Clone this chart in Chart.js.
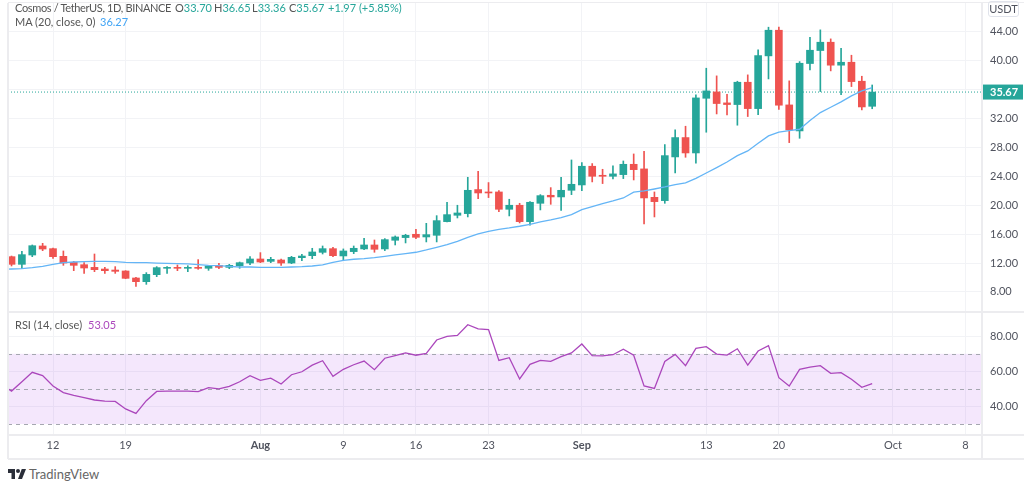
<!DOCTYPE html>
<html>
<head>
<meta charset="utf-8">
<script src="https://cdn.jsdelivr.net/npm/chart.js@4"></script>
<style>
  html,body{margin:0;padding:0;background:#fff;overflow:hidden}
  body{width:1024px;height:489px;position:relative;font-family:Lato,"Open Sans",sans-serif;font-size:11px;color:#555}
  canvas{position:absolute;left:0}
  #mainChart{top:0}
  #rsiChart{top:312px}
  .line{position:absolute;background:#ececef}
  .txt{position:absolute;white-space:nowrap;line-height:14px}
  .up{color:#26a69a}
</style>
</head>
<body>
<canvas id="mainChart" width="1024" height="312"></canvas>
<canvas id="rsiChart" width="1024" height="146"></canvas>

<!-- pane frame -->
<div class="line" style="left:7px;top:3px;width:2px;height:456px"></div>
<div class="line" style="left:981px;top:3px;width:2px;height:456px"></div>
<div class="line" style="left:8px;top:2px;width:1016px;height:1px"></div>
<div class="line" style="left:8px;top:311px;width:1016px;height:2px"></div>
<div class="line" style="left:8px;top:434px;width:1016px;height:2px"></div>
<div class="line" style="left:8px;top:458px;width:1016px;height:2px"></div>

<!-- legends -->
<div class="txt" style="left:15px;top:1px;letter-spacing:-.35px">Cosmos / TetherUS, 1D, BINANCE</div>
<div class="txt" style="left:175px;top:1px">O<span class="up">33.70</span></div>
<div class="txt" style="left:214px;top:1px">H<span class="up">36.65</span></div>
<div class="txt" style="left:252px;top:1px">L<span class="up">33.36</span></div>
<div class="txt" style="left:289px;top:1px">C<span class="up">35.67</span></div>
<div class="txt up" style="left:328px;top:1px">+1.97 (+5.85%)</div>
<div class="txt" style="left:15px;top:15px">MA (20, close, 0)</div>
<div class="txt" style="left:100px;top:15px;color:#42a5f5">36.27</div>
<div class="txt" style="left:15px;top:318px">RSI (14, close)</div>
<div class="txt" style="left:88px;top:318px;color:#ab47bc">53.05</div>

<div class="txt" style="left:988px;top:1px;width:29px;height:14px;border:1px solid #e0e3eb;border-radius:3px;text-align:center;color:#50535e">USDT</div>

<!-- logo -->
<svg style="position:absolute;left:8px;top:468px" width="18" height="12" viewBox="0 0 36 24">
  <path fill="#2a2e39" d="M14 22H7V10H0V2h14zM28 22h-8l7.5-20h8.5z"/><circle fill="#2a2e39" cx="20" cy="6" r="4"/>
</svg>
<div class="txt" style="left:29px;top:467px;font-size:13px;color:#666">TradingView</div>

<script>
/* day numbers count from 12 Jul = 0 */
const firstCandleDay = -4;
const firstLineDay = -5;

const opens  = [12.88,11.82,13.11,14.36,13.99,12.93,12.10,11.77,11.40,11.17,11.03,10.90,9.93,9.42,10.39,11.27,11.40,11.27,11.40,11.27,11.68,11.40,11.63,12.00,12.56,12.23,12.42,12.00,12.74,13.02,13.48,13.99,12.98,13.58,13.95,14.50,13.95,15.15,15.52,15.98,15.61,15.84,17.73,18.61,18.84,22.17,21.84,21.84,19.44,20.00,17.73,20.27,21.38,21.15,22.07,22.81,25.40,24.15,24.01,24.24,25.67,25.03,21.10,20.64,26.69,29.37,27.24,34.81,35.69,34.17,33.94,37.03,33.38,40.68,44.23,33.89,30.29,39.62,41.42,42.57,39.39,39.80,37.17,33.70];
const highs  = [12.97,13.62,14.50,14.73,14.08,13.67,12.23,12.05,13.25,11.40,11.50,10.94,10.02,10.67,11.50,11.50,11.73,11.63,12.47,11.63,11.96,11.82,12.14,12.88,13.44,12.79,12.56,12.93,13.20,14.04,14.36,14.17,13.95,14.36,15.42,15.19,15.38,15.75,15.98,16.67,17.50,18.56,20.41,20.00,23.87,24.71,23.14,22.03,20.83,20.27,20.50,21.47,22.44,23.87,26.27,25.91,25.77,24.98,25.44,26.13,27.10,27.47,21.84,28.40,30.43,30.94,35.28,38.97,37.91,35.37,37.17,38.05,41.51,44.65,44.65,37.22,39.89,43.26,44.28,43.03,41.74,40.77,37.86,36.65];
const lows   = [11.59,11.27,12.88,13.71,12.65,11.68,10.94,10.57,10.80,10.57,10.57,9.83,8.77,9.05,10.11,10.57,10.94,10.80,11.13,10.99,11.22,11.22,11.27,11.77,12.05,12.05,11.68,11.91,12.33,12.60,13.25,12.88,12.42,13.30,13.86,13.49,13.72,14.50,14.78,15.38,14.92,14.92,17.69,18.24,18.38,20.92,21.06,19.12,18.52,17.55,17.23,19.35,20.13,19.30,21.47,22.03,23.23,23.00,23.64,23.69,23.50,17.41,18.38,20.27,24.47,26.64,25.81,30.11,32.64,32.51,31.08,32.28,32.55,37.49,33.25,28.67,29.27,38.74,35.74,38.60,35.32,36.43,33.20,33.36];
const closes = [11.82,13.16,14.40,13.94,12.88,12.00,11.68,11.31,11.08,10.94,10.85,9.88,9.42,10.43,11.36,11.40,11.27,11.40,11.27,11.59,11.40,11.68,12.05,12.56,12.14,12.51,12.00,12.79,12.97,13.53,13.99,13.02,13.67,14.04,14.50,13.90,15.24,15.61,15.84,15.56,15.93,17.87,18.70,18.93,22.07,21.70,21.70,19.44,20.00,17.73,20.41,21.33,21.15,22.07,22.90,25.40,24.01,24.01,24.34,25.67,24.93,21.01,20.50,26.87,29.37,27.24,34.86,35.83,34.08,33.94,37.03,33.38,40.72,44.23,33.85,30.43,39.66,41.46,42.57,39.39,39.80,37.12,33.61,35.67];

const maValues = [11.15,11.17,11.22,11.36,11.54,11.82,12.05,12.14,12.19,12.23,12.23,12.19,12.10,12.05,12.05,12.00,11.96,11.91,11.87,11.77,11.68,11.63,11.54,11.45,11.45,11.40,11.40,11.40,11.45,11.50,11.59,11.73,12.08,12.38,12.52,12.61,12.75,12.93,13.12,13.30,13.49,13.81,14.18,14.55,15.01,15.56,16.03,16.39,16.67,16.86,17.09,17.36,17.69,17.96,18.29,18.70,19.40,19.81,20.23,20.60,21.01,21.82,22.00,22.25,22.53,22.86,23.09,23.73,24.47,25.21,25.99,26.87,27.52,28.58,29.60,30.11,30.34,30.52,31.72,32.83,33.57,34.31,35.14,35.83,36.27];
const rsiValues = [52.8,48.8,54.1,59.5,57.6,51.7,47.9,46.3,45.0,43.7,43.1,42.9,38.6,36.1,43.3,48.6,48.8,48.8,48.8,48.5,50.7,50.0,51.5,54.1,57.6,54.9,56.2,52.8,58.1,59.8,63.6,66.1,57.2,61.2,63.8,65.9,61.0,67.5,69.0,70.5,69.2,70.3,77.9,80.0,80.5,86.6,84.2,83.8,66.3,67.8,55.7,64.0,66.3,65.7,68.4,70.5,75.6,69.0,68.8,69.5,72.6,69.2,51.7,50.3,65.7,69.7,63.3,73.1,74.1,69.9,69.3,72.9,63.6,71.6,74.7,56.4,51.7,61.2,62.5,63.3,58.9,59.3,55.5,50.9,53.05];

const xTickDays   = [0,7,20,28,35,42,51,63,70,81,88];
const xTickLabels = ['12','19','Aug','9','16','23','Sep','13','20','Oct','8'];
const xTickStrong = ['Aug','Sep'];
const priceTicks  = [8,12,16,20,24,28,32,36,40,44];
const rsiTicks    = [40,60,80];
const rsiLevels   = [30,50,70];
const lastPrice   = 35.67;

const xMin = -4.34, xMax = 89.59;
const UP = '#26a69a', DOWN = '#ef5350', GRID = '#f2f3f6', TEXT = '#50535e';
const FONT = 'Lato, "Open Sans", sans-serif';

const candleColors = closes.map((c,i)=> c>=opens[i] ? UP : DOWN);

function xScale(showLabels){
  return {
    type:'linear', min:xMin, max:xMax, offset:false,
    afterBuildTicks:s=>{ s.ticks = xTickDays.map(v=>({value:v})); },
    grid:{color:GRID, offset:false, drawTicks:false},
    border:{display:false},
    ticks:{
      display:showLabels, autoSkip:false, maxRotation:0, padding:5,
      callback:v=>xTickLabels[xTickDays.indexOf(v)],
      font:c=>({family:FONT,size:11,weight:xTickStrong.includes(c.tick&&c.tick.label)?'bold':'normal'}),
      color:TEXT
    },
    afterFit:s=>{ s.height = showLabels ? 24 : 0; s.paddingLeft = s.paddingRight = 0; }
  };
}

function yScale(min,max,list){
  return {
    position:'right', min, max,
    afterBuildTicks:s=>{ s.ticks = list.map(v=>({value:v})); },
    afterFit:s=>{ s.width = 42; s.paddingTop = s.paddingBottom = 0; },
    grid:{color:GRID, drawTicks:false},
    border:{display:false},
    ticks:{padding:8, color:TEXT, font:{family:FONT,size:11}, callback:v=>v.toFixed(2)}
  };
}

/* ── PRICE PANE ──────────────────────────────────────────── */
const priceTagPlugin = {
  id:'priceTag',
  afterDraw(chart){
    const y = chart.scales.y.getPixelForValue(lastPrice), c = chart.ctx;
    c.save();
    c.fillStyle = UP;
    c.fillRect(chart.chartArea.right, y-7.5, 41, 15);
    c.fillStyle = '#fff';
    c.font = 'bold 11px '+FONT;
    c.textBaseline = 'middle';
    c.fillText(lastPrice.toFixed(2), chart.chartArea.right+8, y);
    c.restore();
  }
};

new Chart(document.getElementById('mainChart'),{
  type:'bar',
  data:{datasets:[
    { type:'line', data:[{x:xMin,y:lastPrice},{x:xMax,y:lastPrice}], borderColor:UP, borderWidth:1, borderDash:[1,2], pointRadius:0, order:4 },
    { data:lows.map((l,i)=>({x:firstCandleDay+i,y:[l,highs[i]]})), backgroundColor:candleColors, barThickness:1, grouped:false, order:3 },
    { data:opens.map((o,i)=>({x:firstCandleDay+i,y:[o,closes[i]]})), backgroundColor:candleColors, barThickness:7, grouped:false, order:2 },
    { type:'line', data:maValues.map((v,i)=>({x:firstLineDay+i,y:v})), borderColor:'#64b5f6', borderWidth:1.3, pointRadius:0, tension:0, order:1 }
  ]},
  options:{
    responsive:false, animation:false,
    layout:{padding:{left:8,right:0,top:3,bottom:0}},
    plugins:{legend:{display:false},tooltip:{enabled:false}},
    scales:{ x:xScale(false), y:yScale(5.22,48.0,priceTicks) }
  },
  plugins:[priceTagPlugin]
});

/* ── RSI PANE ────────────────────────────────────────────── */
const rsiBandPlugin = {
  id:'rsiBand',
  beforeDatasetsDraw(chart){
    const {ctx:c, chartArea:a, scales:{y}} = chart;
    c.save();
    c.fillStyle = 'rgba(156,39,230,.11)';
    c.fillRect(a.left, y.getPixelForValue(70), a.width, y.getPixelForValue(30)-y.getPixelForValue(70));
    c.strokeStyle = '#a5a7b0';
    c.lineWidth = 1;
    c.setLineDash([4,4]);
    rsiLevels.forEach(v=>{
      const p = Math.round(y.getPixelForValue(v))+.5;
      c.beginPath(); c.moveTo(a.left,p); c.lineTo(a.right,p); c.stroke();
    });
    c.restore();
  }
};

new Chart(document.getElementById('rsiChart'),{
  type:'line',
  data:{datasets:[
    { data:rsiValues.map((v,i)=>({x:firstLineDay+i,y:v})), borderColor:'#ab47bc', borderWidth:1.3, pointRadius:0, tension:0 }
  ]},
  options:{
    responsive:false, animation:false,
    layout:{padding:{left:8,right:0,top:1,bottom:0}},
    plugins:{legend:{display:false},tooltip:{enabled:false}},
    scales:{ x:xScale(true), y:yScale(24.33,93.28,rsiTicks) }
  },
  plugins:[rsiBandPlugin]
});
</script>
</body>
</html>
